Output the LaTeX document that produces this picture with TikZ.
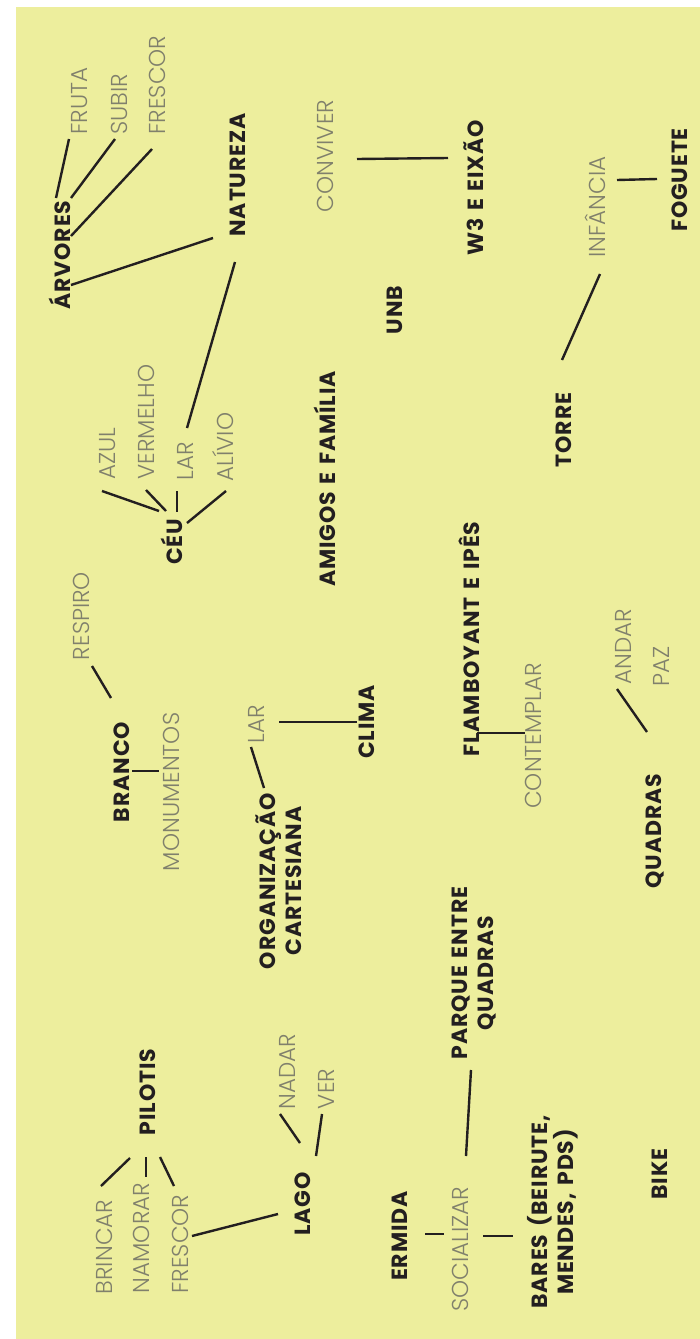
\documentclass[tikz,border=0pt]{standalone}
\usepackage{fontspec}
\setmainfont{Poppins}
\newfontfamily\myboldfam{Poppins}[LetterSpace=4,WordSpace=1.4]
\IfFontExistsTF{Poppins Light}{\newfontfamily\mylightfam{Poppins Light}}{%
  \IfFontExistsTF{Lato Light}{\newfontfamily\mylightfam{Lato Light}}{\newfontfamily\mylightfam{Poppins}}}
\newcommand\myboldfont{\myboldfam\fontsize{22}{26}\selectfont\bfseries}
\newcommand\mylightfont{\mylightfam\fontsize{23}{27}\selectfont}
\definecolor{bg}{RGB}{237,238,157}
\definecolor{ink}{RGB}{35,31,32}
\definecolor{soft}{RGB}{128,128,108}
\begin{document}
\begin{tikzpicture}[x=1pt,y=-1pt,
  bold/.style={rotate=90,inner sep=0pt,font=\myboldfont,text=ink,align=center},
  thin/.style={rotate=90,inner sep=0pt,font=\mylightfont,text=soft},
  link/.style={draw=ink,line width=2.4pt}]
\useasboundingbox (0,0) rectangle (700,1339);
\fill[white] (0,0) rectangle (700,1339);
\fill[bg] (16,7) rectangle (700,1339);

% bold nodes
\node[bold] (arvores) at (60,255) {ÁRVORES};
\node[bold] (natureza) at (238,175) {NATUREZA};
\node[bold] (w3) at (474,188) {W3 E EIXÃO};
\node[bold] (foguete) at (680,180) {FOGUETE};
\node[bold] (unb) at (395,310) {UNB};
\node[bold] (torre) at (564,430) {TORRE};
\node[bold] (ceu) at (172,542) {CÉU};
\node[bold] (amigos) at (325,479) {AMIGOS E FAMÍLIA};
\node[bold] (flamb) at (469,639) {FLAMBOYANT E IPÊS};
\node[bold] (quadras) at (655,831) {QUADRAS};
\node[bold] (branco) at (122,772) {BRANCO};
\node[bold] (clima) at (367,722) {CLIMA};
\node[bold] (org) at (279,881) {ORGANIZAÇÃO\\CARTESIANA};
\node[bold] (parque) at (474,973) {PARQUE ENTRE\\QUADRAS};
\node[bold] (pilotis) at (148,1092) {PILOTIS};
\node[bold] (lago) at (303,1204) {LAGO};
\node[bold] (ermida) at (400,1236) {ERMIDA};
\node[bold] (bares) at (553,1212) {BARES (BEIRUTE,\\MENDES, PDS)};
\node[bold] (bike) at (660,1174) {BIKE};

% light nodes
\node[thin] (fruta) at (80,101) {FRUTA};
\node[thin] (subir) at (119,104) {SUBIR};
\node[thin] (frescorA) at (157,85) {FRESCOR};
\node[thin] (conviver) at (325,156) {CONVIVER};
\node[thin] (infancia) at (595,207) {INFÂNCIA};
\node[thin] (azul) at (108,454) {AZUL};
\node[thin] (vermelho) at (146,422) {VERMELHO};
\node[thin] (larA) at (185,461) {LAR};
\node[thin] (alivio) at (223,447) {ALÍVIO};
\node[thin] (respiro) at (81,616) {RESPIRO};
\node[thin] (monum) at (171,792) {MONUMENTOS};
\node[thin] (larB) at (256,724) {LAR};
\node[thin] (contemplar) at (533,736) {CONTEMPLAR};
\node[thin] (andar) at (623,647) {ANDAR};
\node[thin] (paz) at (661,666) {PAZ};
\node[thin] (brincar) at (104,1247) {BRINCAR};
\node[thin] (namorar) at (141,1238) {NAMORAR};
\node[thin] (frescorB) at (180,1244) {FRESCOR};
\node[thin] (nadar) at (287,1072) {NADAR};
\node[thin] (ver) at (326,1089) {VER};
\node[thin] (socializar) at (460,1249) {SOCIALIZAR};

% connector end points
\coordinate (a1) at (69,139);  \coordinate (a1b) at (56,198);
\coordinate (a2) at (115,139); \coordinate (a2b) at (71,198);
\coordinate (a3) at (152,149); \coordinate (a3b) at (71,236);
\coordinate (a4) at (213,238); \coordinate (a4b) at (71,285);
\coordinate (n1) at (235,262); \coordinate (n1b) at (187,428);
\coordinate (c1) at (102,491); \coordinate (c1b) at (159,511);
\coordinate (c2) at (146,490); \coordinate (c2b) at (166,511);
\coordinate (c3) at (177,491); \coordinate (c3b) at (177,512);
\coordinate (c4) at (226,491); \coordinate (c4b) at (187,523);
\coordinate (w1) at (357,159); \coordinate (w1b) at (448,158);
\coordinate (f1) at (617,180); \coordinate (f1b) at (657,179);
\coordinate (t1) at (600,274); \coordinate (t1b) at (562,360);
\coordinate (r1) at (92,666);  \coordinate (r1b) at (111,698);
\coordinate (m1) at (132,771); \coordinate (m1b) at (159,771);
\coordinate (l1) at (279,722); \coordinate (l1b) at (357,722);
\coordinate (o1) at (251,747); \coordinate (o1b) at (264,788);
\coordinate (fl1) at (477,733); \coordinate (fl1b) at (525,733);
\coordinate (q1) at (617,689); \coordinate (q1b) at (647,732);
\coordinate (p1) at (130,1158); \coordinate (p1b) at (101,1186);
\coordinate (p2) at (146,1157); \coordinate (p2b) at (146,1177);
\coordinate (p3) at (160,1157); \coordinate (p3b) at (174,1186);
\coordinate (g1) at (192,1236); \coordinate (g1b) at (278,1214);
\coordinate (g2) at (280,1114); \coordinate (g2b) at (300,1143);
\coordinate (g3) at (322,1114); \coordinate (g3b) at (316,1156);
\coordinate (s1) at (471,1070); \coordinate (s1b) at (466,1156);
\coordinate (e1) at (425,1234); \coordinate (e1b) at (444,1234);
\coordinate (b1) at (483,1236); \coordinate (b1b) at (513,1236);

% connectors
\draw[link] (a1) -- (a1b);
\draw[link] (a2) -- (a2b);
\draw[link] (a3) -- (a3b);
\draw[link] (a4) -- (a4b);
\draw[link] (n1) -- (n1b);
\draw[link] (c1) -- (c1b);
\draw[link] (c2) -- (c2b);
\draw[link] (c3) -- (c3b);
\draw[link] (c4) -- (c4b);
\draw[link] (w1) -- (w1b);
\draw[link] (f1) -- (f1b);
\draw[link] (t1) -- (t1b);
\draw[link] (r1) -- (r1b);
\draw[link] (m1) -- (m1b);
\draw[link] (l1) -- (l1b);
\draw[link] (o1) -- (o1b);
\draw[link] (fl1) -- (fl1b);
\draw[link] (q1) -- (q1b);
\draw[link] (p1) -- (p1b);
\draw[link] (p2) -- (p2b);
\draw[link] (p3) -- (p3b);
\draw[link] (g1) -- (g1b);
\draw[link] (g2) -- (g2b);
\draw[link] (g3) -- (g3b);
\draw[link] (s1) -- (s1b);
\draw[link] (e1) -- (e1b);
\draw[link] (b1) -- (b1b);
\end{tikzpicture}
\end{document}
